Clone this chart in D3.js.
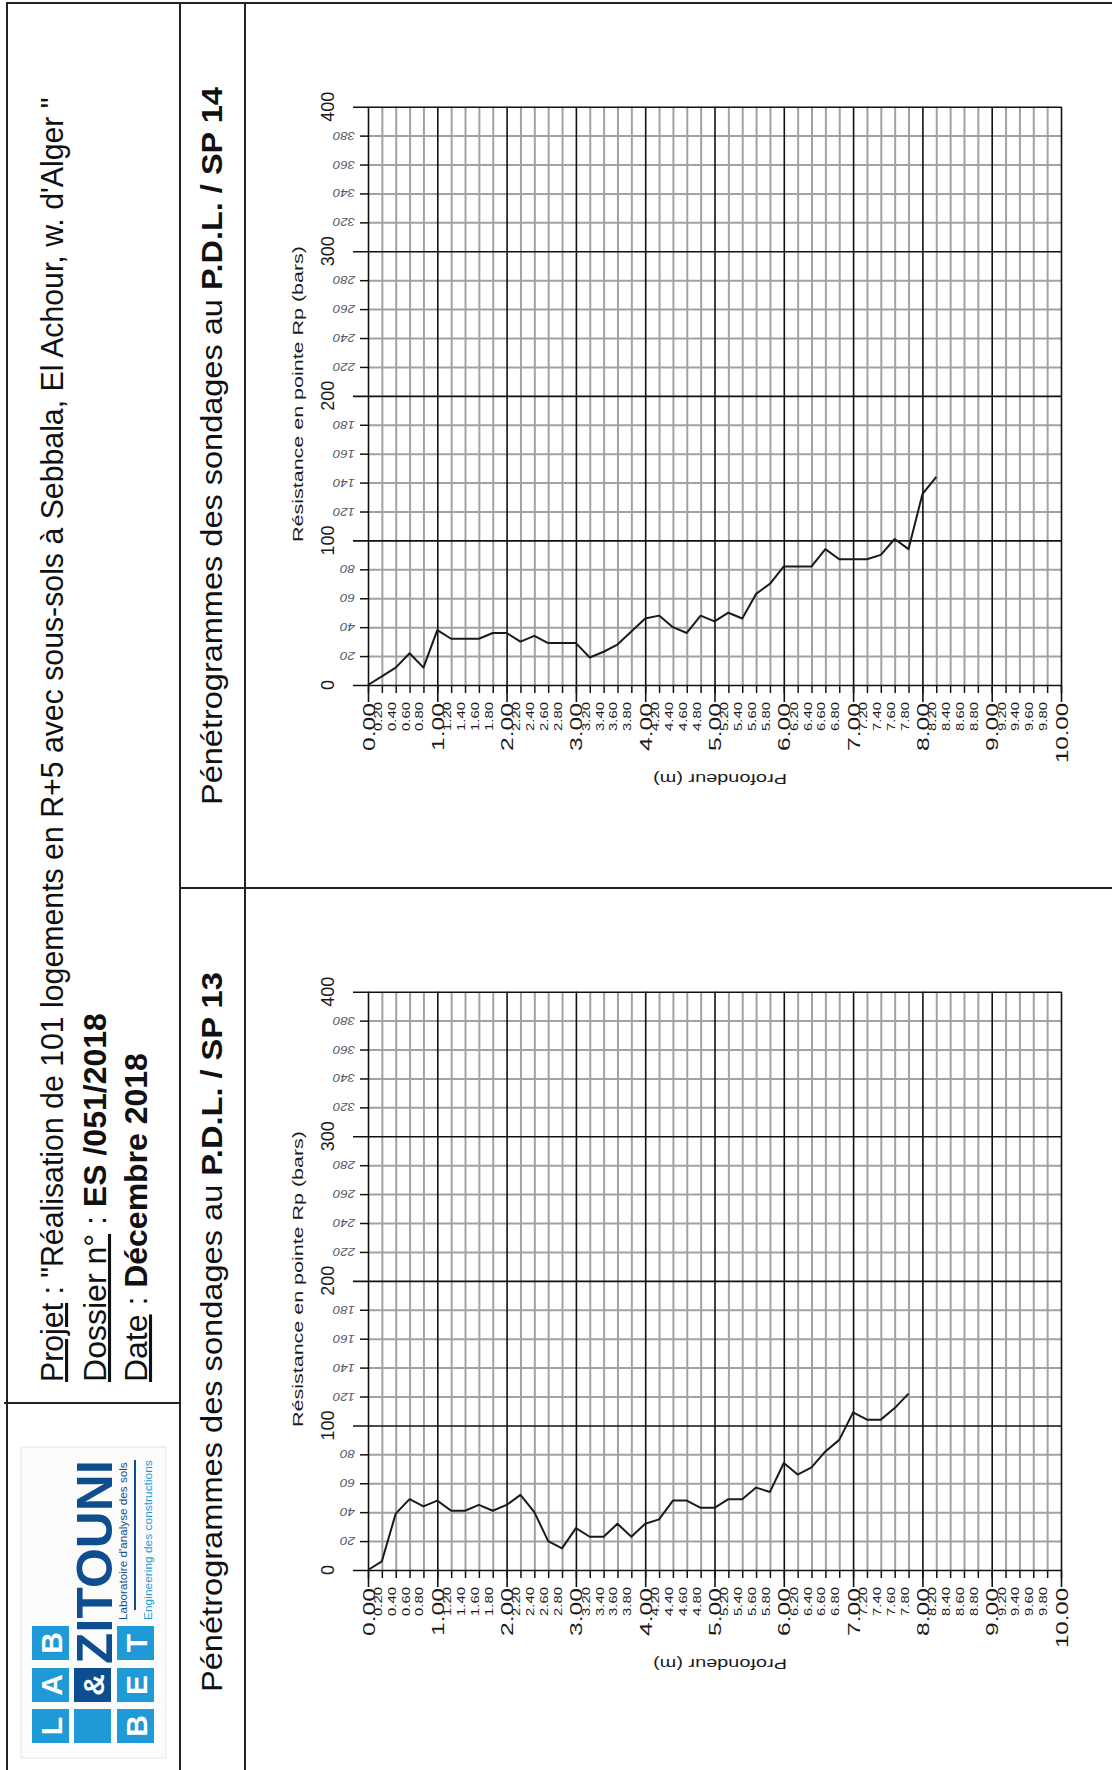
<!DOCTYPE html>
<html>
<head>
<meta charset="utf-8">
<title>Pénétrogrammes SP 13 / SP 14</title>
<script src="https://cdn.jsdelivr.net/npm/d3@7"></script>
<style>
  body { margin: 0; background: #fff; }
  text { font-family: "Liberation Sans", Arial, sans-serif; }
</style>
</head>
<body>
<script>
// ---- data (depth in m, Rp in bars) ----
var depthSP14 = [0.0,0.2,0.4,0.6,0.8,1.0,1.2,1.4,1.6,1.8,2.0,2.2,2.4,2.6,2.8,3.0,3.2,3.4,3.6,3.8,4.0,
                 4.2,4.4,4.6,4.8,5.0,5.2,5.4,5.6,5.8,6.0,6.2,6.4,6.6,6.8,7.0,7.2,7.4,7.6,7.8,8.0,8.2];
var rpSP14 = [0,6,12,22,12,38,32,32,32,36,36,30,34,29,29,29,19,23,28,37,46,
              48,40,36,48,44,50,46,63,70,82,82,82,94,87,87,87,90,101,94,132,144];

var depthSP13 = [0.0,0.2,0.4,0.6,0.8,1.0,1.2,1.4,1.6,1.8,2.0,2.2,2.4,2.6,2.8,3.0,3.2,3.4,3.6,3.8,
                 4.0,4.2,4.4,4.6,4.8,5.0,5.2,5.4,5.6,5.8,6.0,6.2,6.4,6.6,6.8,7.0,7.2,7.4,7.6,7.8];
var rpSP13 = [0,6,39,49,44,48,41,41,45,41,45,52,40,20,15,29,23,23,32,23,
              32,35,48,48,43,43,49,49,57,54,74,66,71,82,90,109,104,104,112,122];

// tick labels
var rpMajor = [0,100,200,300,400];
var rpMinor = [20,40,60,80,120,140,160,180,220,240,260,280,320,340,360,380];
var depthMajor = [0,1,2,3,4,5,6,7,8,9,10];
var depthAll = d3.range(0, 51).map(function(i){ return +(i*0.2).toFixed(1); });
var depthMinor = depthAll.filter(function(d){ return d % 1 !== 0; });

var light = "#1f9ad6", dark = "#0f4e8e";

var svg = d3.select("body").append("svg")
    .attr("width", 1112).attr("height", 1770);
svg.append("rect").attr("width",1112).attr("height",1770).attr("fill","#fff");

// rotated text; fit = target length (px) along the reading direction, or null
function rotText(parent, x, y, angle, size, anchor, parts, fit, fill) {
    var g = parent.append("g").attr("transform", "translate(" + x + "," + y + ") rotate(" + angle + ")");
    var inner = g.append("g");
    var t = inner.append("text")
        .attr("font-size", size)
        .attr("text-anchor", anchor)
        .attr("fill", fill || "#111");
    parts.forEach(function(p){
        var s = t.append("tspan").text(p.t);
        if (p.b) s.attr("font-weight", "bold");
        if (p.u) s.attr("text-decoration", "underline");
    });
    if (fit) {
        var w = t.node().getComputedTextLength();
        inner.attr("transform", "scale(" + (fit / w) + ",1)");
    }
    return t;
}

// ---- frame ----
var frame = svg.append("g").attr("stroke", "#222").attr("stroke-width", 2);
frame.append("line").attr("x1",6).attr("y1",3).attr("x2",1112).attr("y2",3);
frame.append("line").attr("x1",7).attr("y1",3).attr("x2",7).attr("y2",1770);
frame.append("line").attr("x1",180).attr("y1",3).attr("x2",180).attr("y2",1770);
frame.append("line").attr("x1",245).attr("y1",3).attr("x2",245).attr("y2",1770);
frame.append("line").attr("x1",4).attr("y1",1403).attr("x2",180).attr("y2",1403);
frame.append("line").attr("x1",180).attr("y1",888).attr("x2",1112).attr("y2",888);

// ---- header ----
rotText(svg, 63, 1382, -90, 31, "start",
    [{t:"Projet", u:true}, {t:" : \"Réalisation de 101 logements en R+5 avec sous-sols à Sebbala, El Achour, w. d'Alger \""}],
    1285);
rotText(svg, 106, 1382, -90, 31, "start",
    [{t:"Dossier n°", u:true}, {t:" : "}, {t:"ES /051/2018", b:true}], 369);
rotText(svg, 147, 1382, -90, 31, "start",
    [{t:"Date", u:true}, {t:" : "}, {t:"Décembre 2018", b:true}], 329);

rotText(svg, 222, 805, -90, 29, "start",
    [{t:"Pénétrogrammes des sondages au "}, {t:"P.D.L. / SP 14", b:true}], 718);
rotText(svg, 222, 1692, -90, 29, "start",
    [{t:"Pénétrogrammes des sondages au "}, {t:"P.D.L. / SP 13", b:true}], 720);

// ---- logo ----
var logo = svg.append("g").attr("transform", "translate(21,1758) rotate(-90)");
logo.append("rect").attr("x",0).attr("y",0).attr("width",311).attr("height",145)
    .attr("fill","#fbfbfb").attr("stroke","#e6e6e6");
var squares = [
    {u:15, v:11, t:"L", c:light}, {u:56, v:11, t:"A", c:light}, {u:98, v:11, t:"B", c:light},
    {u:15, v:53, t:"",  c:light}, {u:56, v:53, t:"&", c:dark},
    {u:15, v:96, t:"B", c:light}, {u:56, v:96, t:"E", c:light}, {u:98, v:96, t:"T", c:light}
];
squares.forEach(function(s){
    logo.append("rect").attr("x",s.u).attr("y",s.v).attr("width",34).attr("height",37).attr("fill",s.c);
    if (s.t) logo.append("text").attr("x",s.u+17).attr("y",s.v+30)
        .attr("text-anchor","middle").attr("font-size",30).attr("font-weight","bold")
        .attr("fill","#fff").text(s.t);
});
rotText(logo, 94, 91, 0, 50, "start", [{t:"ZITOUNI", b:true}], 204, dark);
rotText(logo, 138, 106, 0, 10, "start", [{t:"Laboratoire d'analyse des sols"}], 158, dark);
logo.append("line").attr("x1",148).attr("x2",298).attr("y1",114).attr("y2",114)
    .attr("stroke",dark).attr("stroke-width",2);
rotText(logo, 138, 131, 0, 11, "start", [{t:"Engineering des constructions"}], 160, light);

// ---- charts ----
function drawChart(oy, depth, rp) {
    var x = d3.scaleLinear().domain([0, 10]).range([368, 1061]);
    var y = d3.scaleLinear().domain([0, 400]).range([685 + oy, 106.7 + oy]);
    var H = y(0) - y(400), W = x(10) - x(0);
    var g = svg.append("g");

    function styleGrid(sel, color, width) {
        sel.select(".domain").remove();
        sel.selectAll(".tick text").remove();
        sel.selectAll(".tick line").attr("stroke", color).attr("stroke-width", width);
    }

    // minor grid (grey)
    g.append("g").attr("transform", "translate(0," + y(0) + ")")
        .call(d3.axisBottom(x).tickValues(depthMinor).tickSize(-H).tickFormat(""))
        .call(styleGrid, "#a2a2a2", 2);
    g.append("g").attr("transform", "translate(" + x(0) + ",0)")
        .call(d3.axisLeft(y).tickValues(rpMinor).tickSize(-W).tickFormat(""))
        .call(styleGrid, "#a2a2a2", 2);

    // small ticks outside the plot
    g.append("g").attr("transform", "translate(0," + y(0) + ")")
        .call(d3.axisBottom(x).tickValues(depthAll).tickSize(8).tickFormat(""))
        .call(styleGrid, "#111", 1.5);
    g.append("g").attr("transform", "translate(" + x(0) + ",0)")
        .call(d3.axisLeft(y).tickValues(rpMinor).tickSize(8).tickFormat(""))
        .call(styleGrid, "#111", 1.5);

    // major grid (black)
    g.append("g").attr("transform", "translate(0," + (y(0) + 17) + ")")
        .call(d3.axisBottom(x).tickValues(depthMajor).tickSize(-(H + 17)).tickFormat(""))
        .call(styleGrid, "#111", 1.6);
    g.append("g").attr("transform", "translate(" + (x(0) - 15) + ",0)")
        .call(d3.axisLeft(y).tickValues(rpMajor).tickSize(-(W + 15)).tickFormat(""))
        .call(styleGrid, "#111", 1.6);

    // y labels
    rpMajor.forEach(function(v){
        rotText(g, 334, y(v), -90, 18, "middle", [{t:String(v)}], null, "#1a1a1a");
    });
    rpMinor.forEach(function(v){
        rotText(g, 355, y(v) - 4, 180, 11, "start", [{t:String(v)}], v < 100 ? 15 : 22, "#525a6c")
            .attr("font-style", "italic");
    });

    // x labels
    var fmt = d3.format(".2f");
    depthAll.forEach(function(d){
        if (d % 1 === 0) {
            rotText(g, x(d) + 6.5, y(0) + 18, -90, 17, "end", [{t:fmt(d)}], d === 10 ? 60 : 48, "#1a1a1a");
        } else {
            rotText(g, x(d), y(0) + 17, -90, 11, "end", [{t:fmt(d)}], 29, "#1a1a1a");
        }
    });

    // axis titles
    rotText(g, 303, y(0) - 291, -90, 15, "middle", [{t:"Résistance en pointe Rp (bars)"}], 296, "#1a1a1a");
    rotText(g, 720, y(0) + 89, 180, 15, "middle", [{t:"Profondeur (m)"}], 134, "#1a1a1a");

    // profile
    var line = d3.line()
        .x(function(d, i){ return x(depth[i]); })
        .y(function(d){ return y(d); });
    g.append("path").datum(rp)
        .attr("d", line)
        .attr("fill", "none")
        .attr("stroke", "#1a1a1a")
        .attr("stroke-width", 2)
        .attr("stroke-linejoin", "round");
}

drawChart(0, depthSP14, rpSP14);
drawChart(885, depthSP13, rpSP13);
</script>
</body>
</html>
